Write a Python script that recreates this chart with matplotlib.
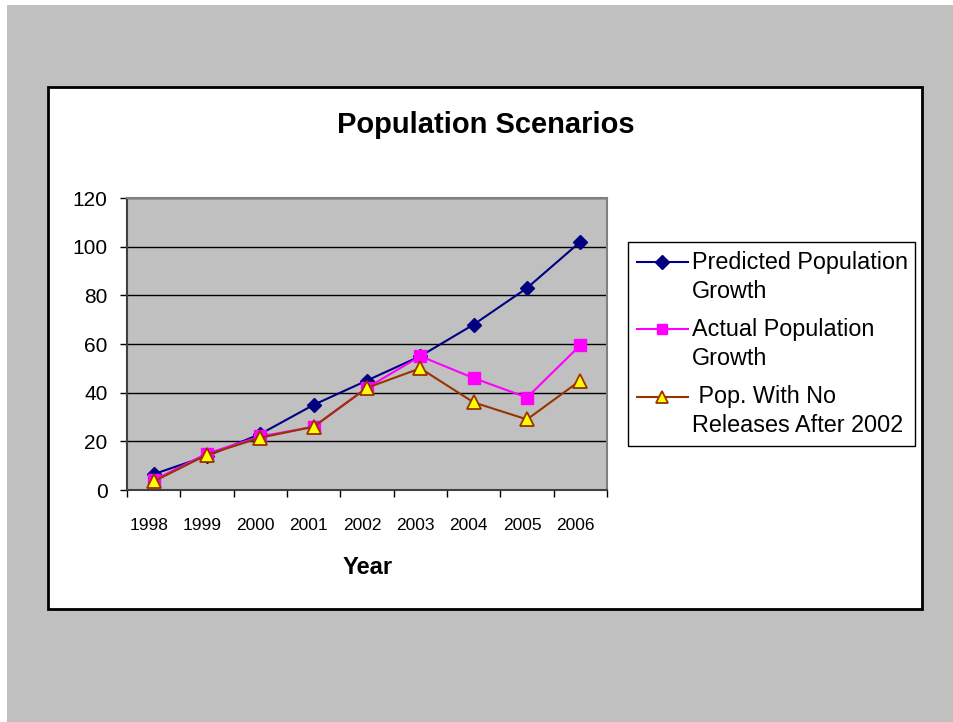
import matplotlib
matplotlib.use("Agg")
import matplotlib.pyplot as plt
from matplotlib.patches import Rectangle
from matplotlib.lines import Line2D

plt.rcParams['font.family'] = ['Liberation Sans', 'DejaVu Sans']

# data
years = ['1998', '1999', '2000', '2001', '2002', '2003', '2004', '2005', '2006']
predicted = [6.5, 14, 23, 35, 45, 55, 68, 83, 102]
actual = [4, 15, 22, 26, 42, 55, 46, 38, 59.5]
no_releases = [3.5, 14.5, 21.5, 26, 42, 50, 36, 29, 45]
labels = [('Predicted Population', 'Growth'),
          ('Actual Population', 'Growth'),
          (' Pop. With No', 'Releases After 2002')]

W, H = 954, 722
fig = plt.figure(figsize=(W / 100, H / 100), dpi=100)
fig.patch.set_facecolor('white')

def fx(px):
    return px / W

def fy(py):
    return 1 - py / H

# grey slide background and white chart area
fig.patches.append(Rectangle((fx(7), 0), 1, fy(5), transform=fig.transFigure,
                             facecolor='#C0C0C0', edgecolor='none', zorder=0))
fig.patches.append(Rectangle((fx(48), fy(609)), fx(922 - 48), (609 - 87) / H,
                             transform=fig.transFigure, facecolor='white',
                             edgecolor='black', lw=2, zorder=1))

ax = fig.add_axes([fx(127), fy(490), fx(480), 292 / H])
ax.set_facecolor('#C0C0C0')
ax.set_zorder(2)

x = [i + 0.5 for i in range(len(years))]
l1, = ax.plot(x, predicted, color='#000080', lw=1.5, marker='D', ms=7.5,
              mfc='#000080', mec='#000080', zorder=3)
l2, = ax.plot(x, actual, color='#FF00FF', lw=1.5, marker='s', ms=8.5,
              mfc='#FF00FF', mec='#FF00FF', zorder=4)
l3, = ax.plot(x, no_releases, color='#993300', lw=1.5, marker='^', ms=10,
              mfc='#FFFF00', mec='#993300', mew=1.3, zorder=5)

ax.set_xlim(0, len(years))
ax.set_ylim(0, 120)
ax.set_yticks(range(0, 121, 20))
ax.yaxis.grid(True, color='black', lw=1)
ax.set_axisbelow(True)

ax.set_xticks(range(0, len(years) + 1))
ax.set_xticklabels([])
# Excel puts the category labels a little left of centre
ax.set_xticks([xi - 0.09 for xi in x], minor=True)
ax.set_xticklabels(years, minor=True, fontsize=12.5)
ax.tick_params(axis='x', which='major', direction='out', length=5, width=1, color='black')
ax.tick_params(axis='x', which='minor', length=0, pad=20)
ax.tick_params(axis='y', direction='out', length=5, width=1, pad=9, labelsize=15)

for s in ['top', 'right']:
    ax.spines[s].set_color('#808080')
    ax.spines[s].set_linewidth(1.5)
for s in ['left', 'bottom']:
    ax.spines[s].set_color('#404040')
    ax.spines[s].set_linewidth(1.5)

fig.text(fx(486), fy(125), 'Population Scenarios', ha='center', va='center',
         fontsize=21, fontweight='bold')
fig.text(fx(368), fy(567), 'Year', ha='center', va='center',
         fontsize=17, fontweight='bold')

# legend drawn Excel-style: key sits on the first text line
fig.patches.append(Rectangle((fx(628), fy(446)), fx(915 - 628), (446 - 242) / H,
                             transform=fig.transFigure, facecolor='white',
                             edgecolor='black', lw=1, zorder=6))
for i, (ln, (first, second)) in enumerate(zip([l1, l2, l3], labels)):
    yy = 262 + i * 67.5
    fig.add_artist(Line2D([fx(637), fx(688)], [fy(yy), fy(yy)], transform=fig.transFigure,
                          color=ln.get_color(), lw=ln.get_linewidth(), zorder=7))
    fig.add_artist(Line2D([fx(662.5)], [fy(yy)], transform=fig.transFigure, ls='none',
                          marker=ln.get_marker(), ms=ln.get_markersize() * 0.9,
                          mfc=ln.get_markerfacecolor(), mec=ln.get_markeredgecolor(),
                          mew=ln.get_markeredgewidth(), zorder=8))
    fig.text(fx(692), fy(yy), first, ha='left', va='center', fontsize=16.8, zorder=8)
    fig.text(fx(692), fy(yy + 29), second, ha='left', va='center', fontsize=16.8, zorder=8)

fig.savefig('out.png', dpi=100)
